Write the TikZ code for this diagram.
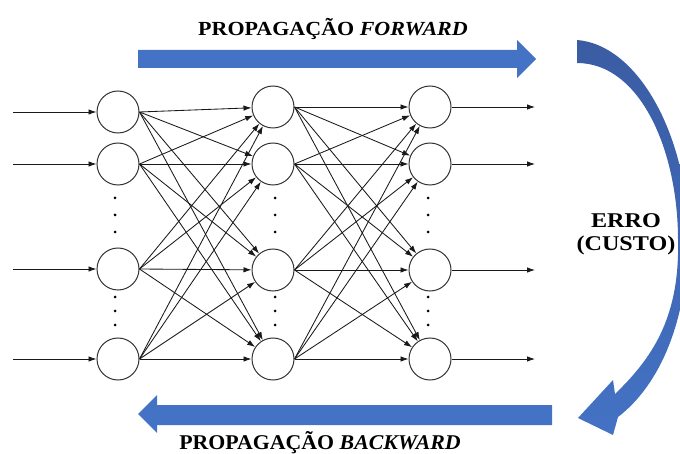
\documentclass[tikz,border=0pt]{standalone}
\usepackage{fontspec}
\setmainfont{Liberation Serif}
\usetikzlibrary{arrows.meta}
\definecolor{officeblue}{HTML}{4472C4}
\definecolor{deepblue}{HTML}{3A5CA3}

\begin{document}
\begin{tikzpicture}[x=1pt,y=-1pt,
  neuron/.style={circle,draw=black!80,line width=1pt,minimum size=42pt,inner sep=0pt},
  link/.style={-{Latex[length=8pt,width=5.5pt]},line width=0.85pt,draw=black!90},
  vdot/.style={fill=black,circle,inner sep=0pt,minimum size=3pt},
  banner/.style={font=\fontsize{20}{24}\selectfont\bfseries,inner sep=0pt,anchor=base},
  bigarrow/.style={fill=officeblue,draw=none}]
\useasboundingbox (0,0) rectangle (680,454);
\clip (0,0) rectangle (680,454);

% three layers of neurons
\foreach \n/\y in {1/112,2/164,3/269,4/359}
  \node[neuron] (a\n) at (118,\y) {};
\foreach \n/\y in {1/107,2/164,3/270,4/359}{
  \node[neuron] (b\n) at (273,\y) {};
  \node[neuron] (c\n) at (430,\y) {};
}

% inputs and outputs
\foreach \n/\y in {1/112,2/164,3/269,4/359}{
  \coordinate (in\n) at (13,\y);
  \draw[link] (in\n) -- (a\n);
}
\foreach \n/\y in {1/107,2/164,3/270,4/359}{
  \coordinate (out\n) at (535,\y);
  \draw[link] (c\n) -- (out\n);
}

% fully connected layers
\foreach \s in {1,...,4}
  \foreach \t in {1,...,4}{
    \draw[link] (a\s.east) -- (b\t);
    \draw[link] (b\s.east) -- (c\t);
  }

% vertical ellipsis dots
\foreach \x in {115,275,428}
  \foreach \y in {198,215,232,297,311,325}
    \node[vdot] (dot-\x-\y) at (\x,\y) {};

% forward arrow
\fill[officeblue] (138,50) -- (517,50) -- (517,40) -- (536,59) -- (517,78)
  -- (517,68) -- (138,68) -- cycle;
% backward arrow
\fill[officeblue] (552,405) -- (157,405) -- (157,395) -- (138,414) -- (157,433)
  -- (157,425) -- (552,425) -- cycle;
% curved return arrow
\shade[top color=deepblue,bottom color=officeblue]
  (577,40) .. controls (640,45) and (688,140) .. (688,235)
  .. controls (688,320) and (660,385) .. (618,417)
  -- (613,435) -- (578,418) -- (613,380) -- (615,394)
  .. controls (650,360) and (680,320) .. (678,240)
  .. controls (678,150) and (640,63) .. (577,63) -- cycle;

% labels
\node[banner,xscale=1.1] (fwd) at (333,36) {PROPAGAÇÃO \textit{FORWARD}};
\node[banner,font=\fontsize{21}{24}\selectfont\bfseries,xscale=1.04] (bwd) at (320,449) {PROPAGAÇÃO \textit{BACKWARD}};
\node[banner,font=\fontsize{21}{24}\selectfont\bfseries,xscale=1.15] (err) at (626,228) {ERRO};
\node[banner,font=\fontsize{21}{24}\selectfont\bfseries,xscale=1.15] (cost) at (626,251) {(CUSTO)};
\end{tikzpicture}
\end{document}
